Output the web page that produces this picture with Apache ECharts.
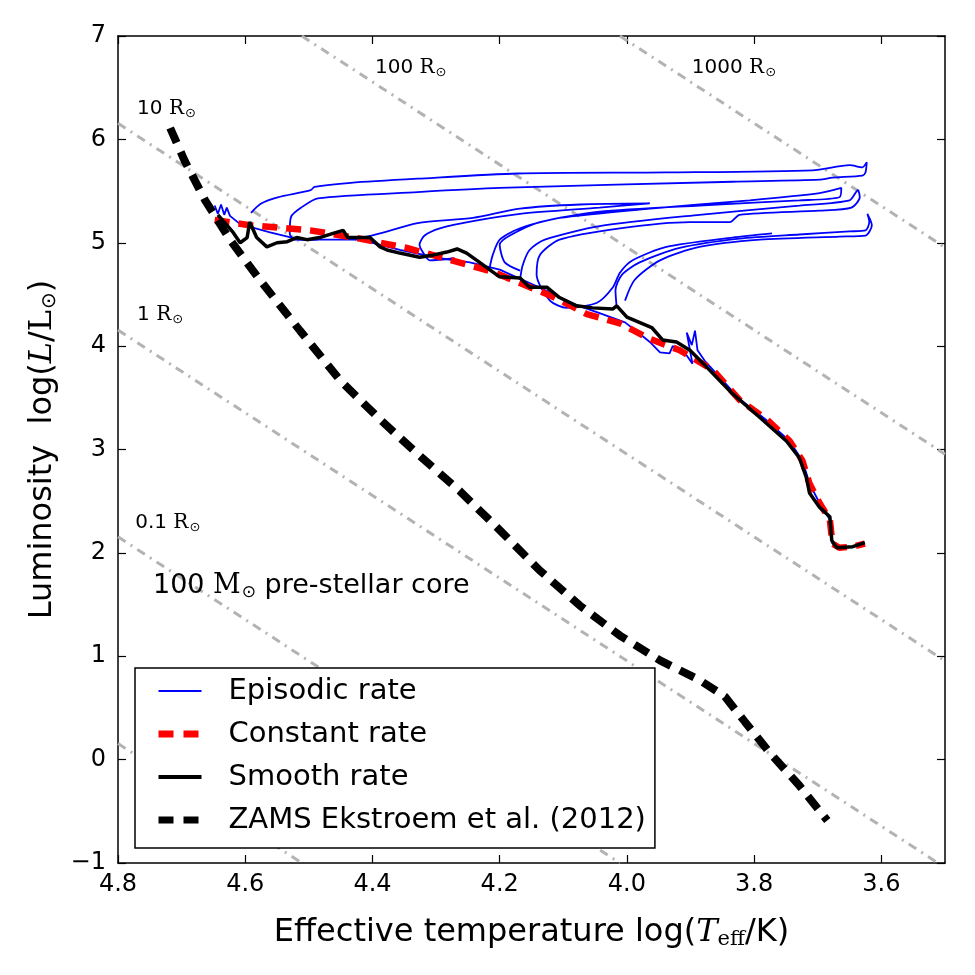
<!DOCTYPE html>
<html>
<head>
<meta charset="utf-8">
<title>HR diagram</title>
<script src="https://cdn.jsdelivr.net/npm/echarts@6/dist/echarts.min.js"></script>
<style>
  html, body { margin: 0; padding: 0; background: #fff; }
  #main { width: 975px; height: 975px; }
</style>
</head>
<body>
<div id="main"></div>
<script type="text/javascript">
// tick positions
var xTicks = [3.6, 3.8, 4.0, 4.2, 4.4, 4.6, 4.8];
var yTicks = [-1, 0, 1, 2, 3, 4, 5, 6, 7];

// [log Teff, log L]
var zams = [[4.718,6.11],[4.695,5.79],[4.663,5.41],[4.624,5.03],[4.577,4.64],[4.514,4.15],[4.451,3.67],[4.388,3.29],[4.326,2.94],[4.263,2.60],[4.200,2.22],[4.137,1.83],[4.074,1.49],[4.011,1.20],[3.948,0.96],[3.886,0.77],[3.846,0.61],[3.815,0.37],[3.776,0.07],[3.729,-0.25],[3.685,-0.59]];

var constantRate = [[4.648,5.22],[4.593,5.17],[4.498,5.12],[4.420,5.04],[4.346,4.95],[4.252,4.79],[4.211,4.72],[4.168,4.61],[4.117,4.48],[4.063,4.31],[4.011,4.22],[3.964,4.07],[3.917,3.96],[3.865,3.77],[3.823,3.48],[3.780,3.29],[3.744,3.08],[3.724,2.89],[3.713,2.67],[3.697,2.48],[3.681,2.32],[3.677,2.09],[3.666,2.05],[3.645,2.06],[3.626,2.09]];

var smoothRate = [[4.643,5.27],[4.619,5.10],[4.608,5.00],[4.597,5.05],[4.593,5.20],[4.582,5.05],[4.566,4.96],[4.550,5.00],[4.534,5.01],[4.519,5.05],[4.503,5.03],[4.483,5.05],[4.462,5.09],[4.446,5.12],[4.439,5.05],[4.420,5.05],[4.404,5.05],[4.388,4.96],[4.377,4.93],[4.357,4.90],[4.326,4.86],[4.305,4.88],[4.283,4.91],[4.267,4.94],[4.252,4.90],[4.236,4.83],[4.216,4.74],[4.200,4.67],[4.168,4.66],[4.153,4.57],[4.126,4.57],[4.106,4.47],[4.079,4.39],[4.054,4.37],[4.022,4.36],[4.016,4.39],[4.000,4.28],[3.961,4.18],[3.944,4.06],[3.922,4.04],[3.901,3.96],[3.875,3.80],[3.834,3.54],[3.791,3.31],[3.749,3.08],[3.729,2.92],[3.718,2.73],[3.713,2.58],[3.697,2.44],[3.681,2.35],[3.678,2.12],[3.670,2.05],[3.645,2.06],[3.626,2.10]];

// episodic track: main branch plus the excursions to the red side
var episodicMain = [[4.648,5.36],[4.643,5.28],[4.638,5.37],[4.633,5.27],[4.629,5.34],[4.624,5.26],[4.608,5.18],[4.561,5.10],[4.514,5.03],[4.483,5.03],[4.420,5.03],[4.357,4.93],[4.294,4.85],[4.247,4.81],[4.200,4.74],[4.153,4.61],[4.121,4.52],[4.090,4.42],[4.043,4.32],[4.003,4.23],[3.980,4.12],[3.964,4.04],[3.948,3.94],[3.933,3.93],[3.928,4.00],[3.917,3.96],[3.906,3.91],[3.897,3.83],[3.906,4.13],[3.898,4.01],[3.893,4.15],[3.889,3.96],[3.878,3.86],[3.823,3.49],[3.780,3.28],[3.744,3.08],[3.724,2.89],[3.713,2.67],[3.697,2.48],[3.681,2.32],[3.677,2.09],[3.666,2.05],[3.645,2.06],[3.626,2.09]];
var episodicLoop1 = [[4.591,5.29],[4.575,5.38],[4.549,5.44],[4.497,5.51],[4.491,5.54],[4.434,5.58],[4.329,5.62],[4.172,5.67],[3.938,5.68],[3.708,5.70],[3.650,5.75],[3.630,5.73],[3.623,5.78],[3.625,5.68],[3.630,5.65],[3.677,5.63],[3.697,5.61],[3.834,5.59],[4.200,5.53],[4.329,5.49],[4.486,5.43],[4.512,5.34],[4.528,5.25],[4.530,5.09],[4.522,5.03],[4.486,5.03]];
var episodicLoop2 = [[4.428,5.03],[4.388,5.09],[4.329,5.19],[4.242,5.24],[4.168,5.33],[4.074,5.37],[3.964,5.38],[4.043,5.34],[4.168,5.28],[4.242,5.21],[4.294,5.14],[4.318,5.07],[4.326,4.98],[4.321,4.91],[4.310,4.83],[4.271,4.85]];
var episodicLoop3 = [[4.216,4.75],[4.211,4.88],[4.200,5.03],[4.168,5.14],[4.106,5.24],[3.964,5.33],[3.807,5.41],[3.697,5.48],[3.663,5.53],[3.666,5.44],[3.729,5.41],[3.886,5.36],[4.043,5.30],[4.137,5.20],[4.184,5.07],[4.200,4.98],[4.192,4.81],[4.168,4.73]];
var episodicLoop4 = [[4.168,4.64],[4.164,4.78],[4.153,4.93],[4.129,5.03],[4.043,5.16],[3.886,5.27],[3.729,5.36],[3.650,5.41],[3.637,5.51],[3.634,5.44],[3.647,5.34],[3.697,5.31],[3.823,5.27],[3.838,5.20],[3.901,5.20],[4.011,5.14],[4.106,5.03],[4.137,4.88],[4.142,4.69],[4.121,4.44],[4.095,4.37],[4.047,4.42],[4.022,4.57],[4.011,4.71],[3.991,4.83],[3.938,4.96],[3.834,5.05],[3.772,5.09]];
var episodicLoop5 = [[4.016,4.37],[4.018,4.54],[4.008,4.69],[3.980,4.81],[3.917,4.95],[3.823,5.04],[3.729,5.08],[3.650,5.11],[3.625,5.12],[3.619,5.20],[3.622,5.28],[3.615,5.17],[3.625,5.07],[3.666,5.06],[3.791,5.03],[3.886,4.96],[3.948,4.83],[3.988,4.64],[4.003,4.44]];

// lines of constant radius, end points
var radiusLines = [
  [[4.8,0.155],[4.511,-1]],
  [[4.8,2.155],[4.011,-1]],
  [[4.8,4.155],[3.511,-1]],
  [[4.8,6.155],[3.5,0.955]],
  [[4.511,7],[3.5,2.955]],
  [[4.011,7],[3.5,4.955]]
];
var radiusLabels = [
  {value: [4.770, 6.30], text: '10 '},
  {value: [4.396, 6.69], text: '100 '},
  {value: [3.898, 6.69], text: '1000 '},
  {value: [4.770, 4.30], text: '1 '},
  {value: [4.773, 2.29], text: '0.1 '}
];
var coreLabel = [4.745, 1.68];

var FONT = 'DejaVu Sans';
var SERIF = 'DejaVu Serif';

var myChart = echarts.init(document.getElementById('main'), null, {renderer: 'canvas'});

var series = [];
for (var i = 0; i < radiusLines.length; i++) {
  series.push({
    type: 'line', data: radiusLines[i], showSymbol: false, symbol: 'none', silent: true, z: 1,
    lineStyle: {color: '#b3b3b3', width: 3, type: [9, 6, 2, 6], cap: 'butt'}
  });
}
var blueParts = [episodicMain, episodicLoop1, episodicLoop2, episodicLoop3, episodicLoop4, episodicLoop5];
for (var j = 0; j < blueParts.length; j++) {
  series.push({
    name: 'Episodic rate', type: 'line', data: blueParts[j], symbol: 'none', z: 2,
    smooth: j === 0 ? false : 0.25,
    itemStyle: {color: '#0000ff'},
    lineStyle: {color: '#0000ff', width: 1.8}
  });
}
series.push({
  name: 'Constant rate', type: 'line', data: constantRate, symbol: 'none', z: 3,
  itemStyle: {color: '#ff0000'},
  lineStyle: {color: '#ff0000', width: 6.5, type: [15, 9], cap: 'butt'}
});
series.push({
  name: 'Smooth rate', type: 'line', data: smoothRate, symbol: 'none', z: 4,
  itemStyle: {color: '#000'},
  lineStyle: {color: '#000000', width: 3.5}
});
series.push({
  name: 'ZAMS Ekstroem et al. (2012)', type: 'line', data: zams, symbol: 'none', z: 5,
  itemStyle: {color: '#000'},
  lineStyle: {color: '#000000', width: 8, type: [16, 10], cap: 'butt'}
});

// text labels for the radius lines and the core mass
var labelData = [];
for (var k = 0; k < radiusLabels.length; k++) {
  labelData.push({
    value: radiusLabels[k].value,
    label: {formatter: '{n|' + radiusLabels[k].text + '}{r|R}{s|\u2299}'}
  });
}
labelData.push({
  value: coreLabel,
  label: {
    formatter: '{n|100 }{r|M}{s|\u2299}{n| pre-stellar core}',
    rich: {
      n: {fontSize: 27, fontFamily: FONT, color: '#000'},
      r: {fontSize: 27, fontFamily: SERIF, color: '#000'},
      s: {fontSize: 17, fontFamily: FONT, color: '#000', padding: [13, 0, 0, 1]}
    }
  }
});
series.push({
  type: 'scatter', data: labelData, symbolSize: 0, silent: true, z: 6,
  itemStyle: {opacity: 1, color: '#000'},
  label: {
    show: true, position: [0, 0], align: 'left', verticalAlign: 'middle', color: '#000',
    rich: {
      n: {fontSize: 20, fontFamily: FONT, color: '#000'},
      r: {fontSize: 20, fontFamily: SERIF, color: '#000'},
      s: {fontSize: 13, fontFamily: FONT, color: '#000', padding: [10, 0, 0, 1]}
    }
  }
});

var axisLine = {show: true, onZero: false, lineStyle: {color: '#000', width: 1.5}};
var tickStyle = {color: '#000', width: 1.2};
var noSymbol = {opacity: 0, borderWidth: 0};

var option = {
  animation: false,
  backgroundColor: '#ffffff',
  grid: {left: 118, right: 30, top: 36, bottom: 112},
  legend: {
    orient: 'vertical', left: 135, top: 668,
    padding: [8, 9, 13, 20],
    itemWidth: 43, itemHeight: 14, itemGap: 13,
    borderColor: '#000', borderWidth: 1.5, borderRadius: 0,
    backgroundColor: '#fff', selectedMode: false,
    textStyle: {fontSize: 29, fontFamily: FONT, color: '#000', lineHeight: 30, padding: [0, 0, 0, 22]},
    data: [
      {name: 'Episodic rate', itemStyle: noSymbol, lineStyle: {color: '#0000ff', width: 2}},
      {name: 'Constant rate', itemStyle: noSymbol, lineStyle: {color: '#ff0000', width: 7, type: [15, 10], cap: 'butt'}},
      {name: 'Smooth rate', itemStyle: noSymbol, lineStyle: {color: '#000', width: 4}},
      {name: 'ZAMS Ekstroem et al. (2012)', itemStyle: noSymbol, lineStyle: {color: '#000', width: 7, type: [15, 10], cap: 'butt'}}
    ]
  },
  xAxis: [{
    type: 'value', inverse: true, min: 3.5, max: 4.8, position: 'bottom',
    axisLine: axisLine,
    axisTick: {inside: true, length: 8, customValues: xTicks, lineStyle: tickStyle},
    axisLabel: {customValues: xTicks, fontSize: 24, fontFamily: FONT, color: '#000', margin: 10,
      formatter: function (v) { return v.toFixed(1); }},
    splitLine: {show: false},
    name: '{t|Effective temperature log(}{i|T}{s|eff}{t|/K)}',
    nameLocation: 'middle', nameGap: 52,
    nameTextStyle: {
      rich: {
        t: {fontSize: 32, fontFamily: FONT, color: '#000'},
        i: {fontSize: 32, fontFamily: SERIF, fontStyle: 'italic', color: '#000'},
        s: {fontSize: 21, fontFamily: SERIF, color: '#000', padding: [14, 0, 0, 0]}
      }
    }
  }, {
    type: 'value', inverse: true, min: 3.5, max: 4.8, position: 'top',
    axisLine: axisLine,
    axisTick: {inside: true, length: 8, customValues: xTicks, lineStyle: tickStyle},
    axisLabel: {show: false}, splitLine: {show: false}
  }],
  yAxis: [{
    type: 'value', min: -1, max: 7, interval: 1, position: 'left',
    axisLine: axisLine,
    axisTick: {inside: true, length: 8, lineStyle: tickStyle},
    axisLabel: {fontSize: 24, fontFamily: FONT, color: '#000', margin: 12,
      formatter: function (v) { return v < 0 ? '\u2212' + (-v) : String(v); }},
    splitLine: {show: false},
    name: '{t|Luminosity  log(}{i|L}{t|/}{r|L}{s|\u2299}{t|)}',
    nameLocation: 'middle', nameGap: 58, nameRotate: 90,
    nameTextStyle: {
      rich: {
        t: {fontSize: 32, fontFamily: FONT, color: '#000'},
        i: {fontSize: 32, fontFamily: SERIF, fontStyle: 'italic', color: '#000'},
        r: {fontSize: 32, fontFamily: SERIF, color: '#000'},
        s: {fontSize: 20, fontFamily: FONT, color: '#000', padding: [14, 0, 0, 1]}
      }
    }
  }, {
    type: 'value', min: -1, max: 7, interval: 1, position: 'right',
    axisLine: axisLine,
    axisTick: {inside: true, length: 8, lineStyle: tickStyle},
    axisLabel: {show: false}, splitLine: {show: false}
  }],
  series: series
};

myChart.setOption(option);
</script>
</body>
</html>
